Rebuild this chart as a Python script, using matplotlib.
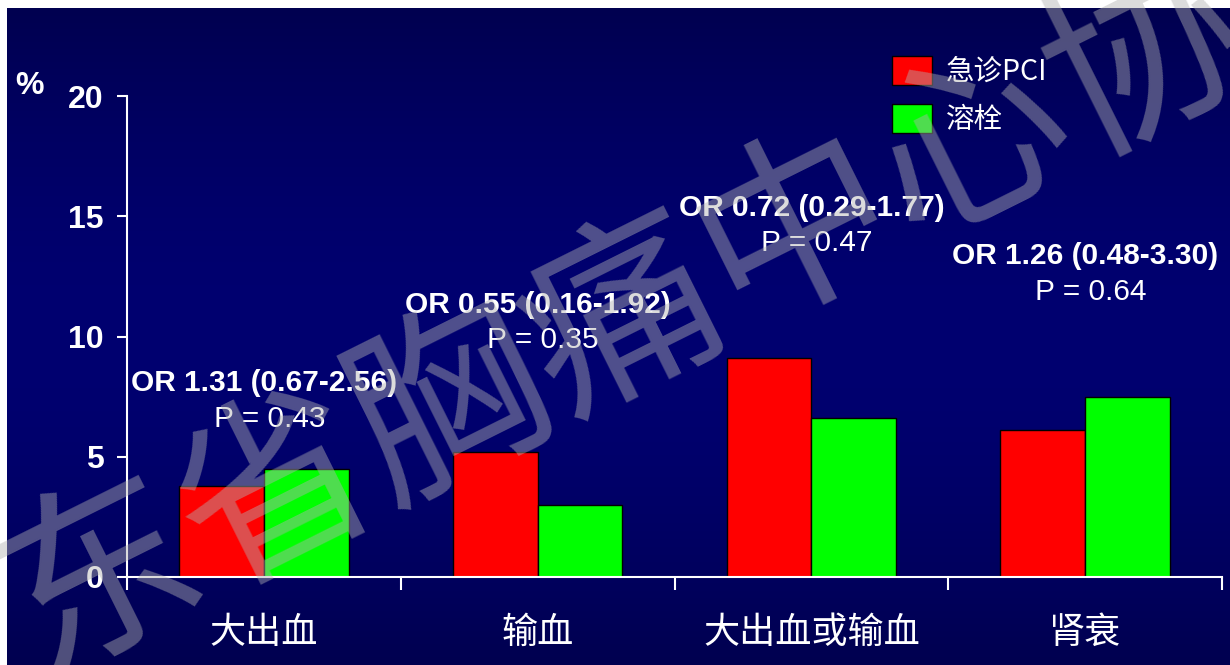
import numpy as np
import matplotlib
matplotlib.use("Agg")
import matplotlib.pyplot as plt

# dane
kategorie = ["大出血", "输血", "大出血或输血", "肾衰"]
pci = [3.8, 5.2, 9.1, 6.1]
tromboliza = [4.5, 3.0, 6.6, 7.5]
or_teksty = ["OR 1.31 (0.67-2.56)", "OR 0.55 (0.16-1.92)",
             "OR 0.72 (0.29-1.77)", "OR 1.26 (0.48-3.30)"]
p_teksty = ["P = 0.43", "P = 0.35", "P = 0.47", "P = 0.64"]
seria_nazwy = ["急诊PCI", "溶栓"]
y_ticki = [0, 5, 10, 15, 20]

# polozenie adnotacji (y w jednostkach osi)
or_y = [8.07, 11.3, 15.34, 13.35]
p_y = [6.57, 9.85, 13.9, 11.85]

CJK = ["Noto Sans CJK SC", "DejaVu Sans"]
LAT = ["Liberation Sans", "DejaVu Sans"]
plt.rcParams["font.family"] = CJK

W, H = 1230, 665
fig = plt.figure(figsize=(W / 100, H / 100), dpi=100, facecolor="white")

# tlo - gradient granatowy
tlo = fig.add_axes([7 / W, 0, 1 - 7 / W, 1 - 8 / H], zorder=-5)
t = np.linspace(0, 1, 256)
niebieski = 80 + 32 * np.sin(np.pi * t)
grad = np.zeros((256, 1, 3))
grad[:, 0, 2] = niebieski / 255
tlo.imshow(grad, aspect="auto", extent=[0, 1, 0, 1])
tlo.axis("off")

ax = fig.add_axes([127 / W, 1 - 577 / H, (1222 - 127) / W, (577 - 96) / H])
ax.patch.set_alpha(0)

x = np.arange(len(kategorie)) + 0.5
szer = 0.31
ax.bar(x - szer / 2, pci, szer, color="#ff0000", edgecolor="black", linewidth=1,
       label=seria_nazwy[0])
ax.bar(x + szer / 2, tromboliza, szer, color="#00ff00", edgecolor="black", linewidth=1,
       label=seria_nazwy[1])

ax.set_xlim(0, len(kategorie))
ax.set_ylim(0, 20)
ax.set_yticks(y_ticki)
ax.set_yticklabels([str(v) for v in y_ticki], color="white", fontsize=23,
                   fontweight="bold", family=LAT)
ax.set_xticks(np.arange(len(kategorie) + 1))
ax.set_xticklabels([])
ax.set_xticks(x, minor=True)
ax.set_xticklabels(kategorie, minor=True, color="white", fontsize=26)
ax.tick_params(axis="x", which="minor", length=0, pad=27)
ax.tick_params(axis="x", which="major", length=9, width=1.5, color="white", direction="out")
ax.tick_params(axis="y", length=7, width=1.5, color="white", direction="out", pad=10)

for s in ["top", "right"]:
    ax.spines[s].set_visible(False)
for s in ["left", "bottom"]:
    ax.spines[s].set_color("white")
    ax.spines[s].set_linewidth(1.5)

fig.text(29 / W, 1 - 86 / H, "%", color="white", fontsize=23,
         fontweight="bold", family=LAT, ha="center", va="center")

for i in range(len(kategorie)):
    ax.text(x[i], or_y[i], or_teksty[i], color="white", fontsize=21.5,
            fontweight="bold", family=LAT, ha="center", va="center")
    ax.text(x[i] + 0.02, p_y[i], p_teksty[i], color="white", fontsize=21.5,
            family=LAT, ha="center", va="center")

leg = ax.legend(loc="upper left", bbox_to_anchor=(892 / W, 1 - 56 / H),
                bbox_transform=fig.transFigure, frameon=False, fontsize=20.5,
                handlelength=1.4, handleheight=1.2, labelspacing=0.6,
                handletextpad=0.5, borderpad=0, borderaxespad=0)
for tx in leg.get_texts():
    tx.set_color("white")

# znak wodny
fig.text(625 / W, 1 - 322 / H, "广东省胸痛中心协会", fontsize=140, color="#b2b2b2",
         alpha=0.45, rotation=26.5, rotation_mode="anchor", ha="center", va="center",
         zorder=10)

fig.savefig("out.png", dpi=100, facecolor="white")
